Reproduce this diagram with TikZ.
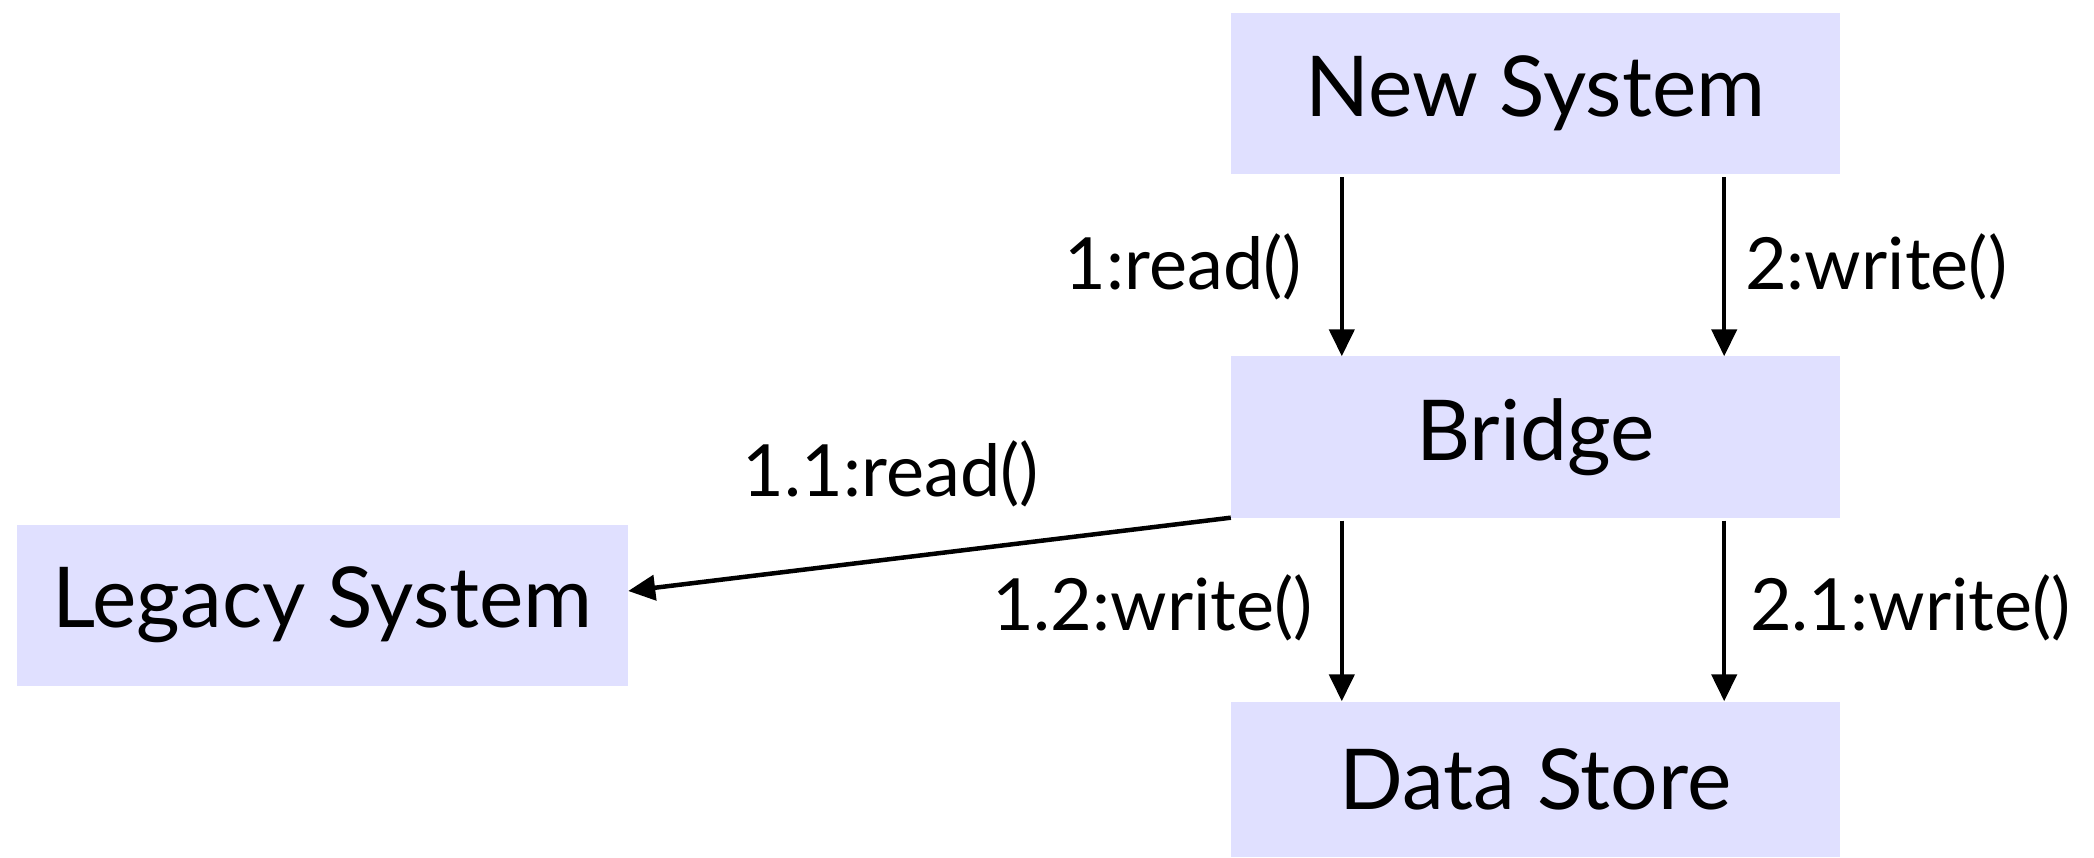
\documentclass[tikz,border=0pt]{standalone}
\usepackage{fontspec}
\setmainfont{Lato}
\usetikzlibrary{arrows.meta}
\definecolor{boxfill}{RGB}{224,224,255}
\tikzset{
  obj/.style={fill=boxfill, draw=none, inner sep=0pt, minimum width=609pt, minimum height=161pt, font=\fontsize{84}{100}\selectfont},
  msg/.style={inner sep=0pt, font=\fontsize{72}{86}\selectfont},
  conn/.style={line width=4.5pt, -{Triangle[length=27pt,width=25pt]}}
}
\begin{document}
\begin{tikzpicture}[x=1pt,y=-1pt]
\useasboundingbox (0,0) rectangle (2094,858);
\node[obj] (ns) at (1535.5,93.5) {New System};
\node[obj] (br) at (1535.5,437) {Bridge};
\node[obj, minimum height=155pt] (ds) at (1535.5,779) {Data Store};
\node[obj, minimum width=611pt] (lg) at (322.5,605) {Legacy System};
\draw[conn] ([xshift=111pt,yshift=-3pt]ns.south west) -- ([xshift=111pt]br.north west);
\draw[conn] ([xshift=-116pt,yshift=-3pt]ns.south east) -- ([xshift=-116pt]br.north east);
\draw[conn] ([xshift=111pt,yshift=-3pt]br.south west) -- ([xshift=111pt]ds.north west);
\draw[conn] ([xshift=-116pt,yshift=-3pt]br.south east) -- ([xshift=-116pt]ds.north east);
\draw[conn] (br.south west) -- ([yshift=14pt]lg.east);
\node[msg, anchor=east] (m1) at (1302,267) {1:read()};
\node[msg, anchor=west] (m2) at (1745,267) {2:write()};
\node[msg, anchor=east] (m11) at (1039,474) {1.1:read()};
\node[msg, anchor=east] (m12) at (1313,608) {1.2:write()};
\node[msg, anchor=west] (m21) at (1750,608) {2.1:write()};
\end{tikzpicture}
\end{document}
